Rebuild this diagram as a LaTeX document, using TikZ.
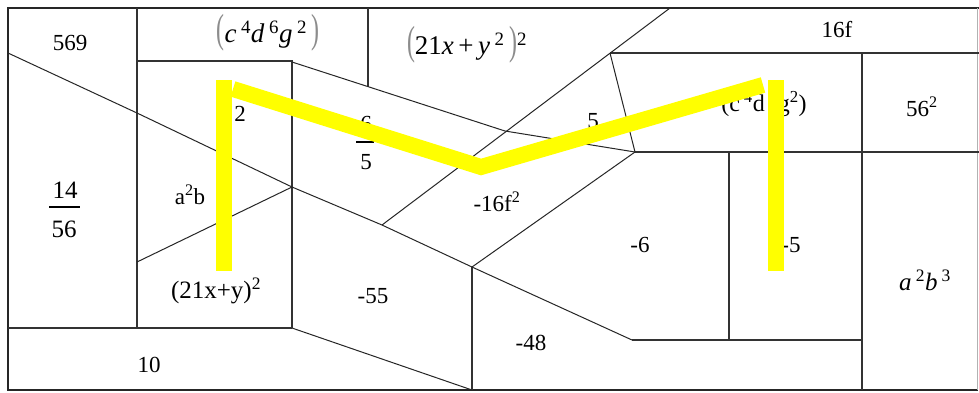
\documentclass[tikz,border=0pt]{standalone}
\usepackage{fontspec}
\setmainfont{Liberation Serif}
\definecolor{hy}{RGB}{255,255,0}
\newcommand\bigpar[1]{\textcolor{black!45}{\scalebox{0.85}[1.45]{\fontsize{28}{30}\selectfont #1}}}
\newcommand\supr[1]{\textsuperscript{#1}}
\begin{document}
\begin{tikzpicture}[x=1pt,y=-1pt,
  frame/.style={line width=2pt,draw=black!85,line cap=rect},
  wall/.style={line width=1.4pt,draw=black!80},
  slant/.style={line width=1pt,draw=black!85},
  lbl/.style={inner sep=0pt,font=\fontsize{23}{25}\selectfont},
  mth/.style={inner sep=0pt,font=\fontsize{27}{29}\selectfont},
  hl/.style={line width=16pt,draw=hy,line join=miter}]
\useasboundingbox (0,0) rectangle (979,392);
\fill[white] (0,0) rectangle (979,392);

% frame corners
\coordinate (TL) at (8,8);
\coordinate (TR) at (979,8);
\coordinate (BL) at (8,390);
\coordinate (BR) at (977,390);
\coordinate (RT) at (977,8);

% main diagonal
\coordinate (d0) at (8,53);
\coordinate (d1) at (137,113);
\coordinate (d2) at (292,187);
\coordinate (d3) at (382,225);
\coordinate (d4) at (472,267);
\coordinate (d5) at (632,340);

% other points
\coordinate (v1t) at (137,8);
\coordinate (v1b) at (137,328);
\coordinate (h1r) at (292,61);
\coordinate (v2b) at (292,328);
\coordinate (l1) at (137,262);
\coordinate (s0) at (292,62);
\coordinate (s1) at (505,131);
\coordinate (s2) at (635,152);
\coordinate (v3t) at (368,8);
\coordinate (v3b) at (368,86.6);
\coordinate (u1) at (670,8);
\coordinate (bx) at (610,53);
\coordinate (hr1) at (979,53);
\coordinate (hr2) at (979,152);
\coordinate (v4t) at (862,53);
\coordinate (v4b) at (862,390);
\coordinate (v5t) at (729,152);
\coordinate (v5b) at (729,340);
\coordinate (h5r) at (862,340);
\coordinate (v6b) at (472,390);

% frame
\draw[frame] (TL) -- (TR);
\draw[frame] (TL) -- (BL) -- (BR);
\draw[line width=1pt,draw=black!30] (RT) -- (BR);

% walls
\draw[wall] (v1t) -- (v1b);
\draw[wall] (v1t |- h1r) -- (h1r) -- (v2b);
\draw[wall] (BL |- v1b) -- (v2b);
\draw[wall] (v3t) -- (v3b);
\draw[wall] (bx) -- (hr1);
\draw[wall] (s2) -- (hr2);
\draw[wall] (v4t) -- (v4b);
\draw[wall] (v5t) -- (v5b);
\draw[wall] (d5) -- (h5r);
\draw[wall] (d4) -- (v6b);

% slanted lines
\draw[slant] (d0) -- (d1) -- (d2) -- (d3) -- (d4) -- (d5);
\draw[slant] (l1) -- (d2);
\draw[slant] (s0) -- (s1) -- (s2);
\draw[slant] (d3) -- (u1);
\draw[slant] (bx) -- (s2);
\draw[slant] (d4) -- (s2);
\draw[slant] (v2b) -- (v6b);

% labels
\node[lbl] (n569) at (70,43) {569};
\node[mth] (ncdg) at (268,33) {\bigpar{(}\textit{c}\,\supr{4}\textit{d}\,\supr{6}\textit{g}\,\supr{2}\,\bigpar{)}};
\node[mth] (n21xy) at (467,45) {\bigpar{(}21\textit{x}\,+\,\textit{y}\,\supr{2}\,\bigpar{)}\supr{2}};
\node[lbl] (n16f) at (837,30) {16f};
\node[lbl] (n2) at (240,114) {2};
\node[lbl] (n6) at (366,124) {6};
\node[lbl] (n5b) at (366,162) {5};
\draw[line width=1.2pt] (356,142) coordinate (fb1) -- (374,142) coordinate (fb2);
\node[lbl] (n5) at (593,121) {5};
\node[lbl,font=\fontsize{24}{26}\selectfont] (ncdg2) at (764,104) {(c\,\supr{4}d\,\supr{6}g\supr{2})};
\node[lbl] (n562) at (922,107) {56\supr{2}};
\node[lbl,font=\fontsize{25}{27}\selectfont] (n14) at (65,190) {14};
\node[lbl,font=\fontsize{25}{27}\selectfont] (n56) at (64,229) {56};
\draw[line width=1.2pt] (49,207) coordinate (fa1) -- (80,207) coordinate (fa2);
\node[lbl] (na2b) at (190,195) {a\supr{2}b};
\node[lbl] (n16f2) at (497,202) {-16f\supr{2}};
\node[lbl] (nm6) at (640,245) {-6};
\node[lbl] (nm5) at (791,245) {-5};
\node[mth,font=\fontsize{25}{27}\selectfont] (na2b3) at (925,280) {\textit{a}\,\supr{2}\textit{b}\,\supr{3}};
\node[lbl,font=\fontsize{25}{27}\selectfont] (n21) at (216,291) {(21x+y)\supr{2}};
\node[lbl] (nm55) at (373,296) {-55};
\node[lbl] (nm48) at (531,343) {-48};
\node[lbl] (n10) at (149,365) {10};

% highlight
\coordinate (y1t) at (224,80);
\coordinate (y1b) at (224,271);
\coordinate (ya) at (233,89);
\coordinate (yb) at (481,167);
\coordinate (yc) at (763,85);
\coordinate (y2t) at (776,80);
\coordinate (y2b) at (776,271);
\draw[hl] (y1t) -- (y1b);
\draw[hl] (ya) -- (yb) -- (yc);
\draw[hl] (y2t) -- (y2b);
\end{tikzpicture}
\end{document}
